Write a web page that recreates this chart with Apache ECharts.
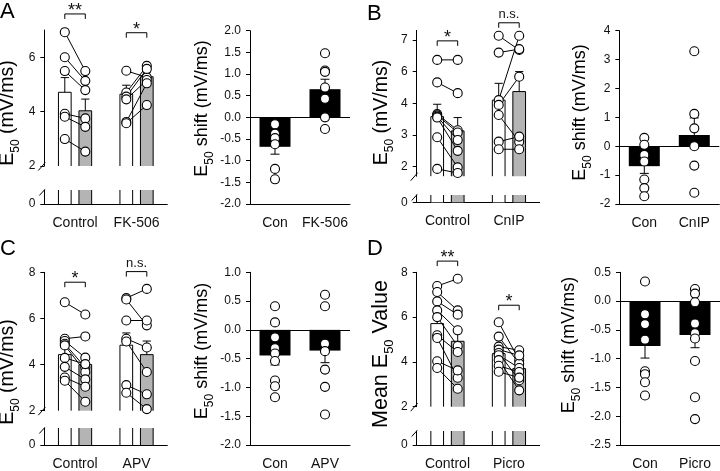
<!DOCTYPE html>
<html><head><meta charset="utf-8">
<script src="https://cdn.jsdelivr.net/npm/echarts@6/dist/echarts.min.js"></script>
<style>html,body{margin:0;padding:0;background:#fff}#c{width:720px;height:471px}</style>
</head><body><div id="c"></div>
<script>
// ---------------- DATA ----------------
// Panel A
const A_categories = ['Control', 'FK-506'];
const A_ctrlBefore = [6.92, 6.00, 5.49, 3.92, 3.81, 2.99];
const A_ctrlAfter  = [5.49, 5.13, 4.79, 3.75, 3.44, 2.53];
const A_drugBefore = [5.50, 4.70, 4.55, 4.45, 3.62, 3.57];
const A_drugAfter  = [5.26, 5.68, 5.57, 5.16, 5.04, 4.24];
const A_barMeans   = [4.71, 4.03, 4.64, 5.28];
const A_barSEM     = [0.54, 0.43, 0.33, 0.17];
const A_yTicks     = [2, 4, 6];
const A_shiftCategories = ['Con', 'FK-506'];
const A_shiftCon   = [-0.16, -0.38, -0.48, -0.62, -1.19, -1.43];
const A_shiftDrug  = [1.48, 1.08, 1.05, 0.69, 0.43, 0.0, -0.27];
const A_shiftMeans = [-0.68, 0.65];
const A_shiftSEM   = [0.17, 0.23];

// Panel B (values on the drawn axis scale; its tick labels read 2,3,4,6,7)
const B_categories = ['Control', 'CnIP'];
const B_ctrlBefore = [5.37, 4.66, 3.66, 3.62, 3.58, 3.55, 2.93, 1.93];
const B_ctrlAfter  = [5.37, 4.32, 3.15, 3.08, 2.84, 2.50, 1.98, 1.80];
const B_drugBefore = [6.13, 5.60, 4.10, 3.95, 3.63, 2.79, 2.55];
const B_drugAfter  = [5.68, 5.71, 6.13, 4.84, 2.79, 2.95, 2.55];
const B_barMeans   = [3.58, 3.13, 4.10, 4.37];
const B_barSEM     = [0.39, 0.42, 0.53, 0.63];
const B_yTicks     = [2, 3, 4, 5, 6];
const B_yTickLabels = ['2', '3', '4', '6', '7'];
const B_shiftCategories = ['Con', 'CnIP'];
const B_shiftCon   = [0.29, 0.05, -0.30, -0.53, -1.15, -1.45, -1.73];
const B_shiftDrug  = [3.29, 1.12, 0.62, 0.0, -0.67, -1.61];
const B_shiftMeans = [-0.69, 0.39];
const B_shiftSEM   = [0.25, 0.59];

// Panel C
const C_categories = ['Control', 'APV'];
const C_ctrlBefore = [6.70, 5.12, 5.02, 4.90, 4.83, 4.29, 3.90, 3.44, 3.30];
const C_ctrlAfter  = [6.17, 5.22, 4.30, 3.87, 3.68, 4.02, 3.36, 3.04, 2.39];
const C_drugBefore = [6.88, 6.82, 5.91, 5.12, 5.00, 3.11, 2.78];
const C_drugAfter  = [7.28, 5.70, 5.91, 4.74, 3.68, 2.71, 2.07];
const C_barMeans   = [4.43, 4.00, 4.84, 4.43];
const C_barSEM     = [0.36, 0.30, 0.53, 0.59];
const C_yTicks     = [2, 4, 6, 8];
const C_shiftCategories = ['Con', 'APV'];
const C_shiftCon   = [0.41, 0.13, -0.13, -0.32, -0.41, -0.54, -0.88, -0.98, -1.17];
const C_shiftDrug  = [0.61, 0.41, -0.24, -0.37, -0.69, -0.99, -1.47];
const C_shiftMeans = [-0.445, -0.36];
const C_shiftSEM   = [0.165, 0.21];

// Panel D
const D_categories = ['Control', 'Picro'];
const D_ctrlBefore = [7.39, 7.12, 6.70, 6.30, 6.00, 5.19, 5.07, 4.03, 3.73];
const D_ctrlAfter  = [7.71, 6.30, 6.11, 5.41, 4.71, 4.44, 3.29, 3.62, 2.80];
const D_drugBefore = [5.77, 5.13, 4.68, 4.55, 4.40, 4.30, 4.08, 3.83, 3.56];
const D_drugAfter  = [4.07, 3.92, 4.52, 4.29, 3.18, 3.73, 2.73, 3.55, 3.30];
const D_barMeans   = [5.71, 4.92, 4.37, 3.70];
const D_barSEM     = [0.44, 0.56, 0.15, 0.20];
const D_yTicks     = [2, 4, 6, 8];
const D_shiftCategories = ['Con', 'Picro'];
const D_shiftCon   = [0.34, -0.23, -0.40, -0.67, -1.22, -1.27, -1.41, -1.64];
const D_shiftDrug  = [0.21, 0.13, -0.02, -0.39, -0.56, -0.65, -1.04, -1.67, -2.05];
const D_shiftMeans = [-0.78, -0.59];
const D_shiftSEM   = [0.21, 0.22];

// ---------------- LAYOUT / STYLE ----------------
const FONT = "'Liberation Sans', Arial, sans-serif";
const INK = '#111';
const GREY = '#b4b4b4';
const XPOS = [1, 2, 4, 5];     // slot positions: ctrl-before, ctrl-after, drug-before, drug-after
const BAR_HALF = 0.31;
const CAP_HALF = 0.2;

const grids = [], xAxes = [], yAxes = [], series = [], graphics = [];

function line(x1, y1, x2, y2, w) {
  return {type: 'line', shape: {x1, y1, x2, y2}, style: {stroke: '#000', lineWidth: w || 1}};
}

function barCustom(gi, means, colors) {
  return {
    type: 'custom', xAxisIndex: gi, yAxisIndex: gi, z: 2,
    data: means.map((m, i) => [XPOS[i], m, i]),
    renderItem: (params, api) => {
      const x = api.value(0), v = api.value(1), i = api.value(2);
      const cs = params.coordSys;
      const top = cs.y, bot = cs.y + cs.height;
      const pl = api.coord([x - BAR_HALF, v]), pr = api.coord([x + BAR_HALF, v]);
      const yv = pl[1];
      const yt = Math.max(top, Math.min(bot, yv));
      const y0 = api.coord([x, 0])[1];
      const yb = Math.min(bot, Math.max(top, y0));
      const xl = pl[0], xr = pr[0];
      const ch = [{type: 'rect', shape: {x: xl, y: yt, width: xr - xl, height: yb - yt}, style: {fill: colors[i]}}];
      ch.push(line(xl, yt, xl, yb));
      ch.push(line(xr, yt, xr, yb));
      if (yv >= top && yv <= bot) ch.push(line(xl, yt, xr, yt));
      return {type: 'group', children: ch};
    }
  };
}

function errCustom(gi, means, sems) {
  return {
    type: 'custom', xAxisIndex: gi, yAxisIndex: gi, z: 3,
    data: means.map((m, i) => [XPOS[i], m, sems[i]]),
    renderItem: (params, api) => {
      const x = api.value(0), m = api.value(1), e = api.value(2);
      const p0 = api.coord([x, m]), p1 = api.coord([x, m + e]);
      const c0 = api.coord([x - CAP_HALF, m + e]), c1 = api.coord([x + CAP_HALF, m + e]);
      return {type: 'group', children: [line(p0[0], p0[1], p1[0], p1[1]), line(c0[0], c0[1], c1[0], c1[1])]};
    }
  };
}

function pairCustom(gi, before, after, xb, xa) {
  return {
    type: 'custom', xAxisIndex: gi, yAxisIndex: gi, z: 4,
    data: before.map((b, i) => [xb, b, xa, after[i]]),
    renderItem: (params, api) => {
      const p1 = api.coord([api.value(0), api.value(1)]);
      const p2 = api.coord([api.value(2), api.value(3)]);
      return line(p1[0], p1[1], p2[0], p2[1]);
    }
  };
}

function dots(gi, pts) {
  return {
    type: 'scatter', xAxisIndex: gi, yAxisIndex: gi, z: 5,
    symbol: 'circle', symbolSize: 9,
    itemStyle: {color: '#fff', borderColor: '#000', borderWidth: 1.1, opacity: 1},
    data: pts
  };
}

function bracket(gi, b) {
  return {
    type: 'custom', xAxisIndex: gi, yAxisIndex: gi, z: 6,
    data: [[b.x1, b.x2, b.y]],
    renderItem: (params, api) => {
      const p1 = api.coord([api.value(0), api.value(2)]);
      const p2 = api.coord([api.value(1), api.value(2)]);
      const isStar = b.t.indexOf('*') >= 0;
      return {type: 'group', children: [
        {type: 'polyline', shape: {points: [[p1[0], p1[1] + 5], [p1[0], p1[1]], [p2[0], p2[1]], [p2[0], p2[1] + 5]]},
         style: {stroke: '#000', lineWidth: 1, fill: null}},
        {type: 'text', x: (p1[0] + p2[0]) / 2, y: p1[1] - (isStar ? 3 : 8),
         style: {text: b.t, fontSize: isStar ? 18 : 13, fontFamily: FONT, fill: INK, align: 'center', verticalAlign: 'middle'}}
      ]};
    }
  };
}

function breakMark(gi, where) {
  return {
    type: 'custom', xAxisIndex: gi, yAxisIndex: gi, z: 6,
    data: [[0, 0]],
    renderItem: (params) => {
      const cs = params.coordSys;
      if (where === 'upper') {
        const b = cs.y + cs.height;
        return line(cs.x - 6, b + 4.5, cs.x + 1, b - 3.5);
      }
      return line(cs.x - 5, cs.y + 5.5, cs.x + 0.5, cs.y - 0.5);
    }
  };
}

function addLeft(L, D) {
  const gU = grids.length;
  grids.push({left: L.x, top: L.top, width: L.w, height: L.bottom - L.top});
  xAxes.push({gridIndex: gU, type: 'value', min: 0, max: 6, show: false});
  const labels = L.tickLabels;
  yAxes.push({
    gridIndex: gU, type: 'value', min: L.min, max: L.max,
    splitLine: {show: false},
    axisLine: {show: true, onZero: false, lineStyle: {color: '#000', width: 1}},
    axisTick: {show: true, length: 4, customValues: L.ticks, lineStyle: {color: '#000'}},
    axisLabel: {customValues: L.ticks, fontSize: 12, color: INK, margin: 9, fontFamily: FONT,
      formatter: v => { const i = L.ticks.indexOf(v); return i < 0 ? '' : (labels ? labels[i] : String(v)); }}
  });
  const gL = grids.length;
  grids.push({left: L.x, top: L.lowTop, width: L.w, height: L.lowBottom - L.lowTop});
  xAxes.push({
    gridIndex: gL, type: 'value', min: 0, max: 6, interval: 1.5,
    splitLine: {show: false},
    axisLine: {show: true, onZero: false, lineStyle: {color: '#000', width: 1}},
    axisTick: {show: false},
    axisLabel: {fontSize: 14, color: INK, margin: 12, fontFamily: FONT, showMinLabel: true, showMaxLabel: true,
      formatter: v => v === 1.5 ? D.cats[0] : (v === 4.5 ? D.cats[1] : '')}
  });
  yAxes.push({
    gridIndex: gL, type: 'value', min: 0, max: 1, interval: 1,
    splitLine: {show: false},
    axisLine: {show: true, onZero: false, lineStyle: {color: '#000', width: 1}},
    axisTick: {show: true, length: 4, customValues: [0], lineStyle: {color: '#000'}},
    axisLabel: {customValues: [0], fontSize: 12, color: INK, margin: 9, fontFamily: FONT,
      formatter: v => v === 0 ? '0' : ''}
  });
  const colors = ['#fff', GREY, '#fff', GREY];
  series.push(barCustom(gU, D.means, colors));
  series.push(barCustom(gL, D.means, colors));
  series.push(errCustom(gU, D.means, D.sem));
  series.push(pairCustom(gU, D.cb, D.ca, XPOS[0], XPOS[1]));
  series.push(pairCustom(gU, D.db, D.da, XPOS[2], XPOS[3]));
  series.push(dots(gU, D.cb.map(v => [XPOS[0], v]).concat(D.ca.map(v => [XPOS[1], v]))
    .concat(D.db.map(v => [XPOS[2], v])).concat(D.da.map(v => [XPOS[3], v]))));
  L.brackets.forEach(b => series.push(bracket(gU, b)));
  series.push(breakMark(gU, 'upper'));
  series.push(breakMark(gL, 'lower'));
}

function addRight(L, D) {
  const g = grids.length;
  grids.push({left: L.x, top: L.top, width: 100, height: L.bottom - L.top});
  xAxes.push({
    gridIndex: g, type: 'category', data: D.cats,
    axisLine: {show: true, onZero: false, lineStyle: {color: '#000', width: 1}},
    axisTick: {show: false},
    axisLabel: {fontSize: 14, color: INK, margin: 12, fontFamily: FONT, interval: 0}
  });
  yAxes.push({
    gridIndex: g, type: 'value', min: L.min, max: L.max, interval: L.interval,
    splitLine: {show: false},
    axisLine: {show: true, onZero: false, lineStyle: {color: '#000', width: 1}},
    axisTick: {show: true, length: 4, lineStyle: {color: '#000'}},
    axisLabel: {fontSize: 12, color: INK, margin: 9, fontFamily: FONT,
      formatter: v => v.toFixed(L.dec)}
  });
  series.push({
    type: 'bar', xAxisIndex: g, yAxisIndex: g, barWidth: 31, z: 2,
    itemStyle: {color: '#000'}, data: D.means,
    markLine: {symbol: 'none', silent: true, label: {show: false},
      lineStyle: {color: '#000', width: 1, type: 'solid'}, data: [{yAxis: 0}]}
  });
  series.push({
    type: 'custom', xAxisIndex: g, yAxisIndex: g, z: 3,
    data: D.means.map((m, i) => [i, m, D.sem[i]]),
    renderItem: (params, api) => {
      const i = api.value(0), m = api.value(1), e = api.value(2);
      const end = m + (m < 0 ? -e : e);
      const p0 = api.coord([i, m]), p1 = api.coord([i, end]);
      return {type: 'group', children: [line(p0[0], p0[1], p1[0], p1[1]), line(p1[0] - 4.5, p1[1], p1[0] + 4.5, p1[1])]};
    }
  });
  series.push(dots(g, D.con.map(v => [0, v]).concat(D.drug.map(v => [1, v]))));
}

function yTitle(x, y, pre, sub, post, size, subSize) {
  graphics.push({
    type: 'text', x, y, rotation: Math.PI / 2,
    style: {
      text: '{n|' + pre + '}{s|' + sub + '}{n|' + post + '}',
      align: 'center', verticalAlign: 'middle', fontFamily: FONT,
      rich: {
        n: {fontSize: size, fontFamily: FONT, fill: '#000', color: '#000', lineHeight: size + 2, verticalAlign: 'middle'},
        s: {fontSize: subSize, fontFamily: FONT, fill: '#000', color: '#000', lineHeight: size + 9, verticalAlign: 'bottom'}
      }
    }
  });
}
function letter(x, y, t) {
  graphics.push({type: 'text', x, y, style: {text: t, fontSize: 22, fontFamily: FONT, fill: '#000', align: 'left', verticalAlign: 'top'}});
}

// ---------------- BUILD ----------------
addLeft({x: 44.3, w: 123, top: 30, bottom: 166, min: 2, max: 7, ticks: A_yTicks, lowTop: 190, lowBottom: 204,
  brackets: [{x1: 1, x2: 2, y: 7.59, t: '**'}, {x1: 4, x2: 5, y: 6.90, t: '*'}]},
  {cats: A_categories, cb: A_ctrlBefore, ca: A_ctrlAfter, db: A_drugBefore, da: A_drugAfter, means: A_barMeans, sem: A_barSEM});
addRight({x: 250, top: 30.7, bottom: 204, min: -2, max: 2, interval: 0.5, dec: 1},
  {cats: A_shiftCategories, con: A_shiftCon, drug: A_shiftDrug, means: A_shiftMeans, sem: A_shiftSEM});

addLeft({x: 416.7, w: 123, top: 30.4, bottom: 176.2, min: 1.7, max: 6.3, ticks: B_yTicks, tickLabels: B_yTickLabels, lowTop: 195, lowBottom: 202.3,
  brackets: [{x1: 1, x2: 2, y: 5.97, t: '*'}, {x1: 4, x2: 5, y: 6.54, t: 'n.s.'}]},
  {cats: B_categories, cb: B_ctrlBefore, ca: B_ctrlAfter, db: B_drugBefore, da: B_drugAfter, means: B_barMeans, sem: B_barSEM});
addRight({x: 619.3, top: 30.7, bottom: 204, min: -2, max: 4, interval: 1, dec: 0},
  {cats: B_shiftCategories, con: B_shiftCon, drug: B_shiftDrug, means: B_shiftMeans, sem: B_shiftSEM});

addLeft({x: 44.3, w: 123, top: 272.3, bottom: 410.7, min: 2, max: 8, ticks: C_yTicks, lowTop: 428, lowBottom: 446,
  brackets: [{x1: 1, x2: 2, y: 7.57, t: '*'}, {x1: 4, x2: 5, y: 8.03, t: 'n.s.'}]},
  {cats: C_categories, cb: C_ctrlBefore, ca: C_ctrlAfter, db: C_drugBefore, da: C_drugAfter, means: C_barMeans, sem: C_barSEM});
addRight({x: 250, top: 272.3, bottom: 445.7, min: -2, max: 1, interval: 0.5, dec: 1},
  {cats: C_shiftCategories, con: C_shiftCon, drug: C_shiftDrug, means: C_shiftMeans, sem: C_shiftSEM});

addLeft({x: 416.7, w: 123, top: 272.3, bottom: 406.7, min: 2, max: 8, ticks: D_yTicks, lowTop: 431, lowBottom: 445.7,
  brackets: [{x1: 1, x2: 2, y: 8.50, t: '**'}, {x1: 4, x2: 5, y: 6.53, t: '*'}]},
  {cats: D_categories, cb: D_ctrlBefore, ca: D_ctrlAfter, db: D_drugBefore, da: D_drugAfter, means: D_barMeans, sem: D_barSEM});
addRight({x: 620, top: 272.3, bottom: 445.7, min: -2.5, max: 0.5, interval: 0.5, dec: 1},
  {cats: D_shiftCategories, con: D_shiftCon, drug: D_shiftDrug, means: D_shiftMeans, sem: D_shiftSEM});

yTitle(7.5, 113, 'E', '50', ' (mV/ms)', 19.5, 12);
yTitle(202, 108.5, 'E', '50', ' shift (mV/ms)', 18, 12);
yTitle(381.5, 112.5, 'E', '50', ' (mV/ms)', 19.5, 12);
yTitle(580.5, 112.5, 'E', '50', ' shift (mV/ms)', 18, 12);
yTitle(7.5, 372, 'E', '50', ' (mV/ms)', 19.5, 12);
yTitle(202, 351, 'E', '50', ' shift (mV/ms)', 18, 12);
yTitle(381, 354, 'Mean E', '50', ' Value', 21.5, 13);
yTitle(569.5, 345, 'E', '50', ' shift (mV/ms)', 18, 12);
letter(0, 1, 'A');
letter(367, 3, 'B');
letter(0, 238, 'C');
letter(367, 238, 'D');

const chart = echarts.init(document.getElementById('c'), null, {renderer: 'canvas'});
chart.setOption({
  animation: false,
  backgroundColor: '#fff',
  textStyle: {fontFamily: FONT},
  grid: grids, xAxis: xAxes, yAxis: yAxes, series: series, graphic: graphics
});
</script>
</body></html>
